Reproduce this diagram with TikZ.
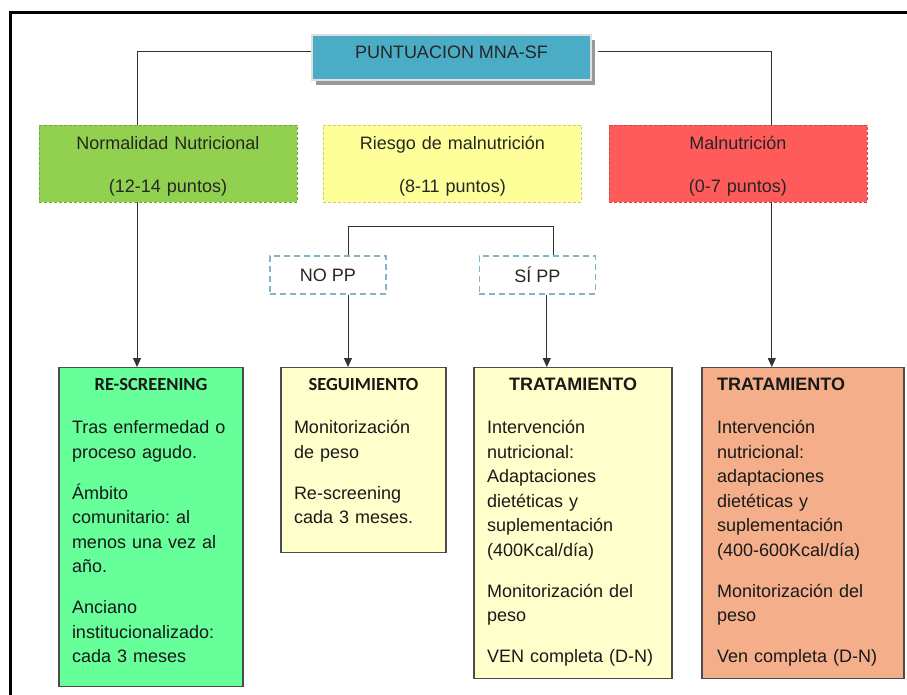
\documentclass[tikz,border=0pt]{standalone}
\usepackage{fontspec}
\setmainfont{Liberation Sans}
\newfontfamily\calibri{Carlito}
\usepackage{tikz}
\usetikzlibrary{arrows.meta, positioning, shadows}
\definecolor{mnablue}{HTML}{4BACC6}
\definecolor{normgreen}{HTML}{92D050}
\definecolor{riskyellow}{HTML}{FFFF99}
\definecolor{malred}{HTML}{FF5B5B}
\definecolor{ppblue}{HTML}{85B4C9}
\definecolor{rescrgreen}{HTML}{66FF99}
\definecolor{paleyellow}{HTML}{FFFFCC}
\definecolor{tratsalmon}{HTML}{F4AF8A}
\newcommand{\boxtitle}[1]{\makebox[\linewidth]{\bfseries #1}}
\tikzset{
    scorebox/.style={rectangle, fill=mnablue, draw=gray!25, line width=1.2pt, minimum width=279pt, minimum height=45pt, text height=13pt, text depth=10pt, text=black!85, font=\fontsize{18}{22}\selectfont, drop shadow={shadow xshift=4pt, shadow yshift=-5pt, fill=black!40, opacity=1}},
    rangebox/.style={rectangle, draw=#1!80!black, densely dashed, fill=#1, text width=258pt, text height=25pt, text depth=52pt, inner sep=0pt, align=center, text=black!85, font=\fontsize{18}{24.5}\selectfont},
    ppbox/.style={rectangle, draw=ppblue, dash pattern=on 6pt off 4pt, line width=1.3pt, fill=white, minimum width=116pt, minimum height=38pt, inner sep=0pt, text=black!85, font=\fontsize{18}{22}\selectfont},
    planbox/.style={rectangle, draw=black!70, line width=1.2pt, anchor=north, align=left, inner xsep=13pt, inner ysep=8pt, text height=15pt, text=black!90, font=\fontsize{18}{24.5}\selectfont\frenchspacing},
    conn/.style={draw=black!80, line width=1pt},
    arrow/.style={conn, -{Triangle[length=9pt, width=8pt]}}
}
\begin{document}
\begin{tikzpicture}[x=1pt, y=1pt]
    \fill[white] (0,0) rectangle (907,-695);
    \useasboundingbox (0,0) rectangle (907,-695);
    \draw[line width=3pt] (907,-13) -- (10,-13) -- (10,-695);
    % Nodes
    \node (puntuacion) [scorebox] at (451.5,-57.5) {PUNTUACION MNA-SF};
    \node (normal) [rangebox=normgreen] at (168,-163.5) {Normalidad Nutricional\\[18.5pt](12-14 puntos)};
    \node (riesgo) [rangebox=riskyellow, right=26pt of normal] {Riesgo de malnutrición\\[18.5pt](8-11 puntos)};
    \node (malnut) [rangebox=malred, right=27pt of riesgo] {Malnutrición\\[18.5pt](0-7 puntos)};
    \node (nopp) [ppbox] at (328,-275) {NO PP};
    \node (sipp) [ppbox, right=92pt of nopp] {SÍ PP};
    \node (rescreen) [planbox, fill=rescrgreen, text width=158pt, text depth=288pt] at (151,-367) {\boxtitle{\calibri\fontsize{18.5}{24.5}\selectfont RE-SCREENING}\\[18.5pt]Tras enfermedad o\\proceso agudo.\\[16.5pt]Ámbito\\comunitario: al\\menos una vez al\\año.\\[16.5pt]Anciano\\institucionalizado:\\cada 3 meses};
    \node (seguim) [planbox, fill=paleyellow, text width=139pt, text depth=154pt] at (363.5,-367) {\boxtitle{\calibri\fontsize{18.5}{24.5}\selectfont SEGUIMIENTO}\\[18.5pt]Monitorización\\de peso\\[16.5pt]Re-screening\\cada 3 meses.};
    \node (tratam) [planbox, fill=paleyellow, text width=172pt, text depth=280pt] at (573,-367) {\boxtitle{TRATAMIENTO}\\[18.5pt]Intervención\\nutricional:\\Adaptaciones\\dietéticas y\\suplementación\\(400Kcal/día)\\[16.5pt]Monitorización del\\peso\\[16.5pt]VEN completa (D-N)};
    \node (tratmal) [planbox, fill=tratsalmon, inner xsep=15pt, text width=172pt, text depth=280pt] at (803,-367) {\textbf{TRATAMIENTO}\\[18.5pt]Intervención\\nutricional:\\adaptaciones\\dietéticas y\\suplementación\\(400-600Kcal/día)\\[16.5pt]Monitorización del\\peso\\[16.5pt]Ven completa (D-N)};
    % Arrows
    \draw [conn] ([yshift=5.5pt]puntuacion.west) -| ([xshift=-31pt]normal.north);
    \draw [conn] ([xshift=6pt, yshift=5.5pt]puntuacion.east) -| ([xshift=34pt]malnut.north);
    \draw [arrow] ([xshift=-31pt]normal.south) -- ([xshift=-31pt]normal.south |- rescreen.north);
    \draw [arrow] ([xshift=34pt]malnut.south) -- ([xshift=34pt]malnut.south |- tratmal.north);
    \draw [conn] ([xshift=20pt]nopp.north) -- ++(0,29pt) -| ([xshift=16.5pt]sipp.north);
    \draw [arrow] ([xshift=20pt]nopp.south) -- ([xshift=20pt]nopp.south |- seguim.north);
    \draw [arrow] ([xshift=9.5pt]sipp.south) -- ([xshift=9.5pt]sipp.south |- tratam.north);
\end{tikzpicture}
\end{document}
